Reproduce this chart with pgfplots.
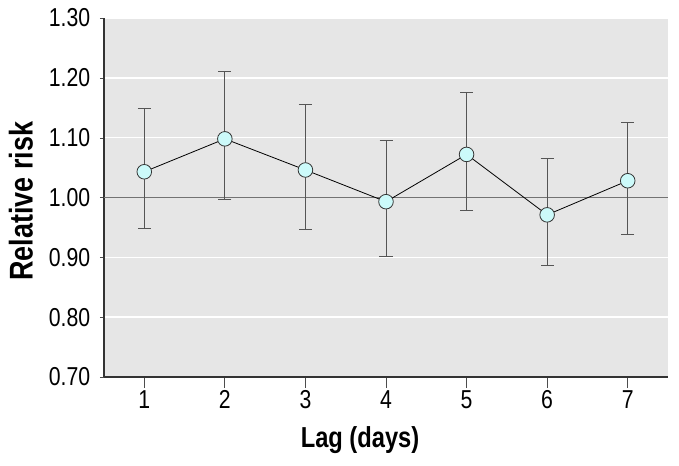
\documentclass[border=0pt]{standalone}
\usepackage{fontspec}
\setmainfont{Liberation Sans}[FakeStretch=0.82]
\usepackage{pgfplots}
\pgfplotsset{compat=1.18}
\usepackage{pgfplotstable}
\definecolor{bg}{HTML}{E6E6E6}
\definecolor{ptfill}{HTML}{CCFAFA}
\definecolor{errc}{HTML}{555555}
\pgfplotstableread{
x y ep em
1 1.043 0.105 0.095
2 1.098 0.113 0.102
3 1.046 0.110 0.100
4 0.993 0.102 0.092
5 1.072 0.104 0.093
6 0.971 0.094 0.085
7 1.028 0.097 0.089
}\rrdata
\begin{document}
\begin{tikzpicture}
\begin{axis}[
  anchor=south west, at={(0,0)},
  scale only axis, width=564bp, height=359bp,
  xmin=0.5, xmax=7.5, ymin=0.70, ymax=1.30,
  axis lines*=left, axis line style={-, line width=1.4bp, color=black!80},
  axis background/.style={fill=bg},
  xtick={1,...,7}, ytick={0.7,0.8,...,1.31},
  ymajorgrids, grid style={white, line width=1.6bp},
  x tick style={black!70, line width=0.8bp}, tick align=outside,
  xtick style={/pgfplots/major tick length=11bp},
  ytick style={/pgfplots/major tick length=4bp, black!70},
  /pgf/number format/assume math mode=true,
  yticklabel style={/pgf/number format/fixed, /pgf/number format/fixed zerofill, /pgf/number format/precision=2},
  tick label style={font=\fontsize{26}{26}\selectfont},
  xticklabel style={yshift=-6bp},
  yticklabel style={xshift=-6bp},
  xlabel={Lag (days)}, ylabel={Relative risk},
  xlabel style={font=\fontsize{29}{29}\bfseries\selectfont, at={(rel axis cs:0.454,0)}, anchor=center, yshift=-63bp},
  ylabel style={font=\fontsize{33}{33}\bfseries\selectfont, at={([xshift=-83bp]rel axis cs:0,0.49)}, anchor=center},
  clip=false,
]
\draw[black!55, line width=1.6bp] (axis cs:0.5,1.0) -- (axis cs:7.5,1.0);
\addplot[black, line width=0.8bp, mark=*, mark size=7.3bp,
  mark options={fill=ptfill, draw=black!80, line width=0.8bp},
  error bars/.cd, y dir=both, y explicit,
  error bar style={errc, line width=0.9bp},
  error mark options={rotate=90, mark size=6.5bp, errc, line width=0.9bp}]
  table[x=x, y=y, y error plus=ep, y error minus=em] {\rrdata};
\end{axis}
\pgfresetboundingbox
\path (-104bp,-89bp) rectangle (575bp,377bp);
\end{tikzpicture}
\end{document}
